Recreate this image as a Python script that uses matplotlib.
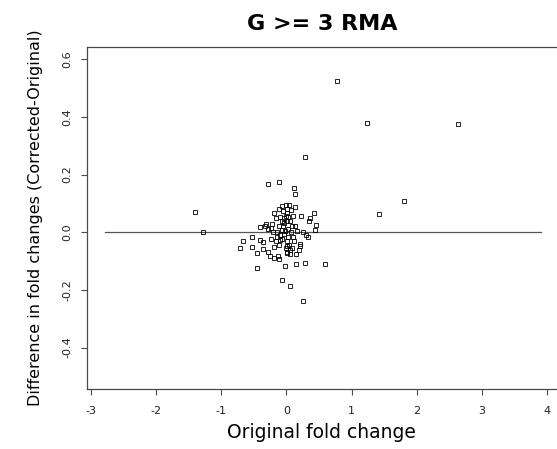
import matplotlib
matplotlib.use("Agg")
import matplotlib.pyplot as plt

plt.rcParams['font.family'] = ['DejaVu Sans']

# Original fold change per gene
orig_fc = [0.77, 1.233, 2.63, 0.282, 1.805, 1.417, -1.405, -1.287,
           -0.29, -0.117, 0.109, 0.134, 0.425, 0.354, 0.339, 0.451, 0.436,
           0.226, -0.408, -0.535, -0.664, -0.715, -0.535, -0.459, -0.367,
           -0.29, -0.255, -0.193, -0.127, -0.112, -0.193, -0.408, -0.357,
           -0.454, -0.02, 0.149, 0.277, 0.589, -0.071, 0.057, 0.256,
           0.206, 0.206, 0.19, 0.323, 0.293, 0.247, 0.149, 0.052, 0.011,
           0.015, 0.077, -0.112, -0.239, -0.327, -0.316, -0.229, -0.235,
           -0.29, -0.193, -0.121, -0.05, -0.075, 0.041, 0.134, -0.009,
           -0.101, 0.026, 0.103, -0.075, 0.011, 0.077, 0.134, -0.075,
           -0.152, -0.04, -0.143, -0.071, 0.026, -0.101, 0.011, 0.041,
           -0.009, 0.052, -0.05, 0.063, 0.155, -0.025, 0.026, -0.04, 0.052,
           -0.112, -0.101, -0.163, 0.011, 0.063, -0.009, 0.011, -0.04,
           -0.163, -0.204, 0.103, 0.118, 0.001]

# Corrected minus original fold change per gene
diff_fc = [0.525, 0.379, 0.374, 0.262, 0.109, 0.064, 0.0696, 0.0,
           0.168, 0.176, 0.154, 0.132, 0.066, 0.050, 0.038, 0.026, 0.007,
           0.055, 0.020, -0.016, -0.031, -0.053, -0.051, -0.073, -0.058,
           -0.067, -0.081, -0.090, -0.081, -0.093, -0.051, -0.028, -0.033,
           -0.123, -0.116, -0.110, -0.108, -0.110, -0.166, -0.188, -0.240,
           -0.039, -0.049, -0.063, -0.016, -0.011, 0.001, -0.075, -0.075,
           -0.067, -0.049, -0.054, -0.043, -0.023, 0.021, 0.030, 0.030,
           0.016, 0.013, 0.067, 0.081, 0.073, 0.090, 0.093, 0.087, 0.058,
           0.054, 0.052, 0.056, 0.038, 0.038, 0.021, 0.021, 0.009, 0.002,
           -0.005, -0.016, -0.023, -0.016, -0.028, -0.031, -0.043, -0.056,
           -0.060, 0.021, 0.001, 0.003, 0.003, 0.012, 0.033, 0.038, 0.021,
           -0.010, -0.031, 0.079, 0.077, 0.093, 0.067, 0.050, 0.050, 0.0,
           -0.016, -0.031, -0.072]

# Zero reference line extent
line_x = [-2.78, 3.91]
line_y = [0.0, 0.0]

x_ticks = [-3, -2, -1, 0, 1, 2, 3, 4]
y_ticks = [-0.4, -0.2, 0.0, 0.2, 0.4, 0.6]
y_tick_labels = ["-0.4", "-0.2", "0.0", "0.2", "0.4", "0.6"]

fig = plt.figure(figsize=(5.57, 4.49), dpi=100)
# the plot box runs past the right edge of the canvas
ax = fig.add_axes([0.1562, 0.1336, 0.88, 0.7617])

spine_col = '#4a4a4a'
ax.plot(line_x, line_y, color='#555555', linewidth=0.9, zorder=1)
ax.plot(orig_fc, diff_fc, linestyle='none', marker='s', markersize=3.0,
        markerfacecolor='none', markeredgecolor='black',
        markeredgewidth=0.6, zorder=2)

ax.set_xlim(-3.061, 4.46)
ax.set_ylim(-0.5437, 0.6426)

ax.set_xticks(x_ticks)
ax.set_xticklabels([str(t) for t in x_ticks])
ax.set_yticks(y_ticks)
ax.set_yticklabels(y_tick_labels, rotation=90, va='center')

for s in ax.spines.values():
    s.set_color(spine_col)
    s.set_linewidth(0.9)

ax.tick_params(direction='out', length=4.5, width=0.8, color=spine_col,
               labelsize=8, labelcolor='#222222')
ax.tick_params(axis='x', pad=8)
ax.tick_params(axis='y', pad=6)

# titles centred on the visible part of the plot
ax.set_title("G >= 3 RMA", fontsize=16, fontweight='bold', pad=12, x=0.479)
ax.set_xlabel("Original fold change", fontsize=13.5, labelpad=5)
ax.xaxis.label.set_x(0.479)
ax.set_ylabel("Difference in fold changes (Corrected-Original)",
              fontsize=11.5, labelpad=14)

fig.savefig("out.png", dpi=100)
